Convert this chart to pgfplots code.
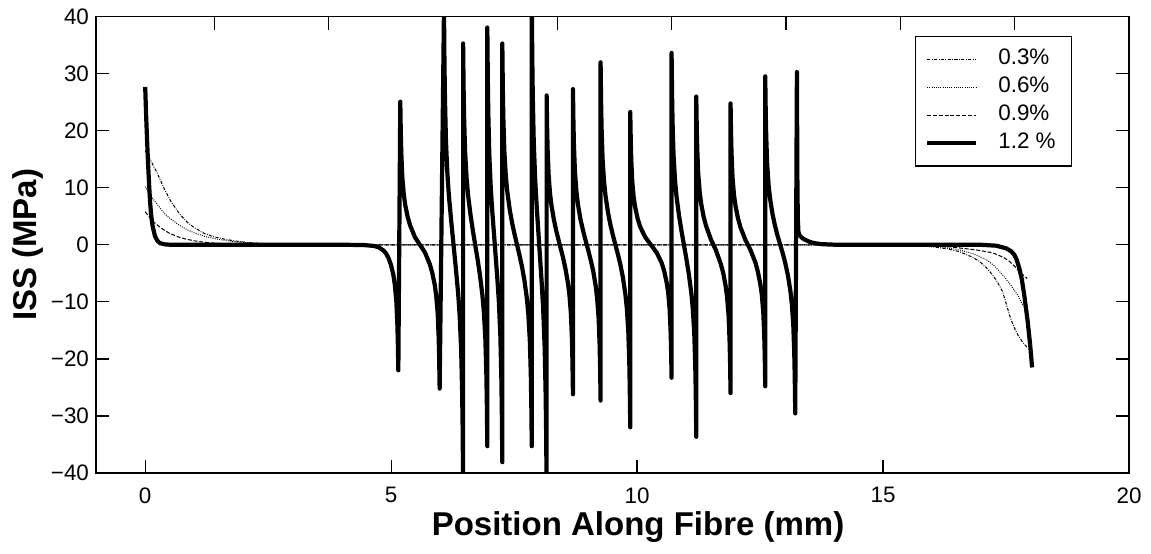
\documentclass[border=0pt]{standalone}
\usepackage{fontspec}
\setmainfont{Liberation Sans}
\usepackage{pgfplots}
\pgfplotsset{compat=1.18}
\begin{document}
\begin{tikzpicture}
\begin{axis}[
  scale only axis, width=516.5pt, height=228.15pt,
  xmin=-1, xmax=20, ymin=-40, ymax=40,
  xtick={0,5,10,15,20}, xticklabels={0,5,10,15,20},
  ytick={-40,-30,-20,-10,0,10,20,30,40},
  yticklabels={−40,−30,−20,−10,0,10,20,30,40},
  xtick pos=left,
  tick align=inside, major tick length=6.5pt,
  every tick/.append style={line width=0.6pt, black},
  axis line style={line width=0.65pt},
  tick label style={font=\fontsize{11.2}{13}\selectfont},
  xticklabel style={yshift=-3.7pt},
  xlabel={Position Along Fibre (mm)}, ylabel={ISS (MPa)},
  label style={font=\fontsize{16.5}{20}\selectfont\bfseries},
  xlabel style={at={(axis description cs:0.5247,-0.118)}, anchor=center},
  ylabel style={at={(axis description cs:-0.0658,0.5)}, anchor=center},
  legend cell align=left,
  legend style={at={(0.945,0.958)}, anchor=north east, draw=black, line width=0.6pt, fill=white,
    inner xsep=5pt, inner ysep=4.4pt, column sep=7pt, row sep=0pt,
    font=\fontsize{11.2}{13}\selectfont,
    nodes={inner xsep=3pt, inner ysep=1.9pt, text height=7.9pt, text depth=2.3pt}},
  legend image code/.code={\draw[#1] (0pt,0pt) -- (24.5pt,0pt);},
]
\coordinate (sw) at (rel axis cs:0,0);
\coordinate (ne) at (rel axis cs:1,1);
% 0.3 %
\addplot[black, line width=0.5pt, dash pattern=on 1.6pt off 0.7pt on 0.4pt off 0.7pt] coordinates {
(0,16.5) (0.1,15.0) (0.254,12.4) (0.4,9.6) (0.524,7.6) (0.7,5.4) (0.864,3.9) (1.0,3.0) (1.2,2.0) (1.4,1.4) (1.61,1.0) (1.85,0.65) (2.08,0.4) (2.4,0.2) (2.8,0.08) (3.3,0)
(15.0,0) (15.6,-0.1) (16.0,-0.35) (16.3,-0.7) (16.555,-1.2) (16.8,-2.1) (16.96,-2.9) (17.1,-4.0) (17.23,-5.3) (17.33,-6.6) (17.43,-8.2) (17.5,-10.2) (17.57,-12.3) (17.65,-14.2) (17.74,-15.8) (17.84,-17.1) (17.94,-18.1)
};
\addlegendentry{0.3\%}
% 0.6 %
\addplot[black, line width=0.5pt, dash pattern=on 0.45pt off 0.65pt] coordinates {
(0,10.2) (0.1,8.7) (0.254,7.0) (0.4,5.4) (0.524,4.5) (0.7,3.4) (0.864,2.6) (1.0,2.1) (1.2,1.5) (1.4,1.1) (1.61,0.8) (1.85,0.54) (2.08,0.38) (2.4,0.22) (2.8,0.1) (3.3,0)
(15.0,0) (15.9,-0.1) (16.2,-0.4) (16.555,-0.9) (16.85,-1.6) (17.1,-2.6) (17.25,-3.6) (17.37,-4.7) (17.5,-6.0) (17.64,-7.6) (17.75,-9.0) (17.84,-10.5) (17.93,-11.2)
};
\addlegendentry{0.6\%}
% 0.9 %
\addplot[black, line width=0.5pt, dash pattern=on 2pt off 0.9pt] coordinates {
(0,5.8) (0.1,4.7) (0.2,3.8) (0.3,3.1) (0.4,2.5) (0.5,2.0) (0.66,1.43) (0.8,1.06) (1.0,0.7) (1.2,0.45) (1.4,0.3) (1.7,0.15) (2.1,0.06) (2.6,0)
(15.0,0) (16.0,-0.1) (16.3,-0.3) (16.555,-0.55) (16.9,-0.9) (17.23,-1.4) (17.45,-2.2) (17.57,-2.9) (17.68,-3.8) (17.77,-4.7) (17.85,-5.3) (17.93,-5.9)
};
\addlegendentry{0.9\%}
% 1.2 %
\addplot[black, line width=2.1pt, line join=round] coordinates {
(0,27.7) (0.02,22.5) (0.04,18) (0.06,14) (0.08,10.5) (0.1,7.5) (0.12,5.3) (0.15,3.3) (0.2,1.5) (0.25,0.7) (0.3,0.3) (0.4,0.08) (0.55,0)
(4.146,0) (4.446,-0.04) (4.646,-0.19) (4.746,-0.43) (4.846,-1.0) (4.896,-1.5) (4.946,-2.3) (4.996,-3.5) (5.046,-5.3) (5.076,-7.05) (5.106,-10.0) (5.126,-13.9) (5.136,-17.1) (5.146,-22)
(5.186,25.1) (5.196,19.7) (5.206,16.2) (5.226,12.0) (5.256,8.9) (5.286,7.0) (5.336,4.9) (5.386,3.4) (5.486,1.3) (5.586,0) (5.686,-1.3) (5.786,-3.4) (5.836,-4.9) (5.886,-7.0) (5.916,-8.9) (5.946,-12.0) (5.966,-16.2) (5.976,-19.7) (5.986,-25.2)
(6.074,41.1) (6.084,31.8) (6.094,25.7) (6.114,18.3) (6.144,12.4) (6.174,8.6) (6.224,3.9) (6.2685,0) (6.313,-3.9) (6.363,-8.6) (6.393,-12.4) (6.423,-18.3) (6.443,-25.7) (6.453,-31.8) (6.463,-41.1)
(6.463,35.3) (6.473,27.5) (6.483,22.5) (6.503,16.4) (6.533,11.8) (6.563,8.8) (6.613,5.3) (6.663,2.4) (6.709,0) (6.755,-2.4) (6.805,-5.3) (6.855,-8.8) (6.885,-11.8) (6.915,-16.4) (6.935,-22.5) (6.945,-27.5) (6.955,-35.3)
(6.955,38.1) (6.965,29.2) (6.975,23.2) (6.995,15.9) (7.025,10.0) (7.055,6.0) (7.1075,0) (7.16,-6.0) (7.19,-10.0) (7.22,-15.9) (7.24,-23.2) (7.25,-29.2) (7.26,-38.1)
(7.26,35.3) (7.27,27.7) (7.28,22.6) (7.30,16.7) (7.33,12.2) (7.36,9.4) (7.41,6.2) (7.46,3.8) (7.51,1.8) (7.5595,0) (7.609,-1.8) (7.659,-3.8) (7.709,-6.2) (7.759,-9.4) (7.789,-12.2) (7.819,-16.7) (7.839,-22.6) (7.849,-27.7) (7.859,-35.3)
(7.859,43) (7.869,32.9) (7.879,26.2) (7.899,18.0) (7.929,11.3) (7.959,6.7) (8.01,0) (8.061,-6.7) (8.091,-11.3) (8.121,-18.0) (8.141,-26.2) (8.151,-32.9) (8.161,-43)
(8.161,26.2) (8.171,20.5) (8.181,16.7) (8.201,12.3) (8.231,8.9) (8.261,6.8) (8.311,4.3) (8.361,2.3) (8.4285,0) (8.496,-2.3) (8.546,-4.3) (8.596,-6.8) (8.626,-8.9) (8.656,-12.3) (8.676,-16.7) (8.686,-20.5) (8.696,-26.2)
(8.696,27.3) (8.706,21.4) (8.716,17.5) (8.736,12.9) (8.766,9.4) (8.796,7.2) (8.846,4.6) (8.896,2.7) (8.946,1.0) (8.977,0) (9.008,-1.0) (9.058,-2.7) (9.108,-4.6) (9.158,-7.2) (9.188,-9.4) (9.218,-12.9) (9.238,-17.5) (9.248,-21.4) (9.258,-27.3)
(9.258,32.0) (9.268,25.1) (9.278,20.5) (9.298,15.1) (9.328,11.1) (9.358,8.6) (9.408,5.7) (9.458,3.5) (9.508,1.7) (9.5595,0) (9.611,-1.7) (9.661,-3.5) (9.711,-5.7) (9.761,-8.6) (9.791,-11.1) (9.821,-15.1) (9.841,-20.5) (9.851,-25.1) (9.861,-32.0)
(9.861,23.3) (9.871,18.3) (9.881,15.1) (9.901,11.2) (9.931,8.3) (9.961,6.6) (10.011,4.6) (10.061,3.2) (10.161,1.4) (10.281,0) (10.401,-1.4) (10.501,-3.2) (10.551,-4.6) (10.601,-6.6) (10.631,-8.3) (10.661,-11.2) (10.681,-15.1) (10.691,-18.3) (10.701,-23.3)
(10.701,33.65) (10.711,26.3) (10.721,21.4) (10.741,15.7) (10.771,11.3) (10.801,8.5) (10.851,5.2) (10.901,2.5) (10.952,0) (11.003,-2.5) (11.053,-5.2) (11.103,-8.5) (11.133,-11.3) (11.163,-15.7) (11.183,-21.4) (11.193,-26.3) (11.203,-33.65)
(11.203,26.0) (11.213,20.4) (11.223,16.8) (11.243,12.4) (11.273,9.2) (11.303,7.2) (11.353,4.9) (11.403,3.3) (11.503,0.9) (11.5515,0) (11.600,-0.9) (11.700,-3.3) (11.750,-4.9) (11.800,-7.2) (11.830,-9.2) (11.860,-12.4) (11.880,-16.8) (11.890,-20.4) (11.900,-26.0)
(11.900,24.8) (11.910,19.5) (11.920,16.0) (11.940,11.8) (11.970,8.7) (12.000,6.85) (12.050,4.7) (12.100,3.1) (12.200,0.9) (12.2525,0) (12.305,-0.9) (12.405,-3.1) (12.455,-4.7) (12.505,-6.85) (12.535,-8.7) (12.565,-11.8) (12.585,-16.0) (12.595,-19.5) (12.605,-24.8)
(12.605,29.55) (12.615,23.2) (12.625,19.0) (12.645,14.0) (12.675,10.3) (12.705,8.0) (12.755,5.3) (12.805,3.3) (12.855,1.6) (12.91,0) (12.965,-1.6) (13.015,-3.3) (13.065,-5.3) (13.115,-8.0) (13.145,-10.3) (13.175,-14.0) (13.195,-19.0) (13.205,-23.2) (13.215,-29.55)
(13.249,30.3) (13.258,12) (13.267,4.5) (13.28,2.3) (13.3,1.7) (13.35,1.25) (13.4,0.95) (13.5,0.55) (13.6,0.3) (13.75,0.12) (14.0,0.03) (14.4,0)
(17.0,0) (17.3,-0.15) (17.5,-0.6) (17.6,-1.1) (17.67,-1.75) (17.72,-2.7) (17.77,-4.1) (17.82,-6.0) (17.87,-8.8) (17.94,-13.4) (17.99,-17.5) (18.03,-21.5)
};
\addlegendentry{1.2 \%}
\end{axis}
\begin{axis}[
  scale only axis, width=516.5pt, height=228.15pt,
  xmin=-1, xmax=20, ymin=-40, ymax=40,
  xtick={1.41,3.733,6.056,8.379,10.702,13.025,15.348,17.671}, xticklabels={},
  xtick pos=right, ytick=\empty,
  tick align=inside, major tick length=6.5pt,
  every tick/.append style={line width=0.6pt, black},
  axis line style={line width=0.65pt},
]
\end{axis}
\path ([xshift=-48pt,yshift=-40.5pt]sw) rectangle ([xshift=11pt,yshift=8.35pt]ne);
\end{tikzpicture}
\end{document}
